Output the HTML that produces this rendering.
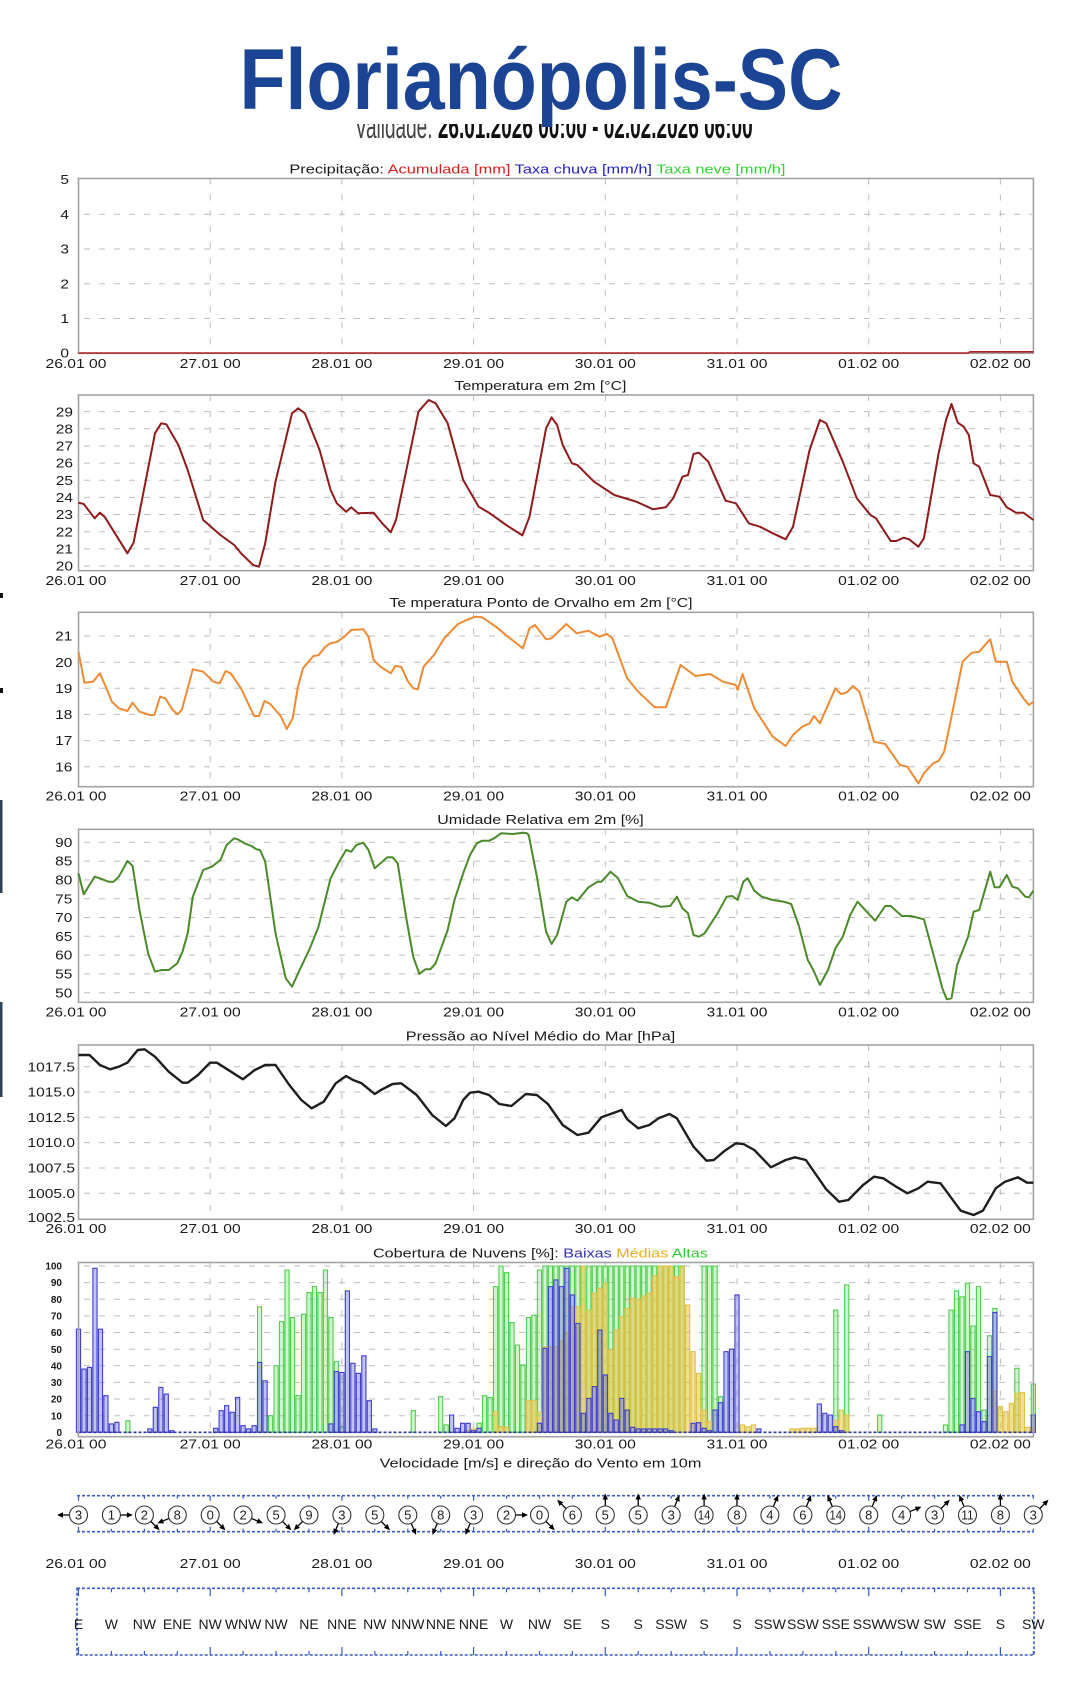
<!DOCTYPE html>
<html><head><meta charset="utf-8">
<style>
html,body{margin:0;padding:0;background:#fff;width:1078px;height:1708px;overflow:hidden}
svg{display:block}
.lb{font-size:12.5px;fill:#1a1a1a}
.gr{stroke:#bdbdbd;stroke-width:1;fill:none}
.bd{fill:none;stroke:#a3a3a3;stroke-width:1.6}
</style></head>
<body>
<svg width="1078" height="1708" viewBox="0 0 1078 1708" xmlns="http://www.w3.org/2000/svg" font-family="'Liberation Sans', Arial, sans-serif">
<defs>
<clipPath id="vc"><rect x="330" y="124" width="450" height="20"/></clipPath>
<g id="ar"><path d="M0,-9V-16.5" stroke="#000" stroke-width="1.3"/><path d="M0,-21.5L-2.7,-15.5L2.7,-15.5Z" fill="#000"/></g>
</defs>
<rect width="1078" height="1708" fill="#fff"/>

<!-- left edge artifacts -->
<rect x="0" y="593" width="3" height="5" fill="#111"/>
<rect x="0" y="688" width="3" height="5" fill="#111"/>
<rect x="0" y="800" width="2.5" height="93" fill="#2d4256"/>
<rect x="0" y="1002" width="2.5" height="95" fill="#2d4256"/>

<!-- header -->
<text clip-path="url(#vc)" x="553.7" y="137.8" font-size="34" text-anchor="middle" textLength="398" lengthAdjust="spacingAndGlyphs"><tspan fill="#444">Validade: </tspan><tspan font-weight="bold" fill="#111">26.01.2026 00:00 - 02.02.2026 06:00</tspan></text>
<text x="541" y="109" font-size="86" font-weight="bold" fill="#1b4594" text-anchor="middle" textLength="603" lengthAdjust="spacingAndGlyphs">Florianópolis-SC</text>

<!-- ============ PANEL 0: Precip ============ -->
<text class="lb" x="537.4" y="173.5" text-anchor="middle" textLength="496" lengthAdjust="spacingAndGlyphs"><tspan>Precipitação: </tspan><tspan fill="#d42020">Acumulada [mm] </tspan><tspan fill="#2323c0">Taxa chuva [mm/h] </tspan><tspan fill="#33d033">Taxa neve [mm/h]</tspan></text>
<path class="gr" stroke-dasharray="6 9" d="M84 214.3H1032M84 249H1032M84 283.8H1032M84 318.5H1032"/>
<path class="gr" stroke-dasharray="6 10" d="M210.2 178.5V353.3M341.9 178.5V353.3M473.6 178.5V353.3M605.3 178.5V353.3M737 178.5V353.3M868.7 178.5V353.3M1000.4 178.5V353.3"/>
<rect class="bd" x="78.5" y="178.5" width="954.9" height="174.8"/>
<path d="M78.5 353H968L970 351.8H1033.4" fill="none" stroke="#b02020" stroke-width="1.6"/>
<g class="lb" text-anchor="end">
<text x="69" y="184.1" textLength="8.6" lengthAdjust="spacingAndGlyphs">5</text>
<text x="69" y="218.9" textLength="8.6" lengthAdjust="spacingAndGlyphs">4</text>
<text x="69" y="253.6" textLength="8.6" lengthAdjust="spacingAndGlyphs">3</text>
<text x="69" y="288.4" textLength="8.6" lengthAdjust="spacingAndGlyphs">2</text>
<text x="69" y="323.1" textLength="8.6" lengthAdjust="spacingAndGlyphs">1</text>
<text x="69" y="357.5" textLength="8.6" lengthAdjust="spacingAndGlyphs">0</text>
</g>
<g class="lb" text-anchor="middle">
<text x="76" y="368" textLength="61" lengthAdjust="spacingAndGlyphs">26.01 00</text>
<text x="210.2" y="368" textLength="61" lengthAdjust="spacingAndGlyphs">27.01 00</text>
<text x="341.9" y="368" textLength="61" lengthAdjust="spacingAndGlyphs">28.01 00</text>
<text x="473.6" y="368" textLength="61" lengthAdjust="spacingAndGlyphs">29.01 00</text>
<text x="605.3" y="368" textLength="61" lengthAdjust="spacingAndGlyphs">30.01 00</text>
<text x="737" y="368" textLength="61" lengthAdjust="spacingAndGlyphs">31.01 00</text>
<text x="868.7" y="368" textLength="61" lengthAdjust="spacingAndGlyphs">01.02 00</text>
<text x="1000.4" y="368" textLength="61" lengthAdjust="spacingAndGlyphs">02.02 00</text>
</g>

<!-- ============ PANEL 1: Temperature ============ -->
<text class="lb" x="540.5" y="390" text-anchor="middle" textLength="171.7" lengthAdjust="spacingAndGlyphs">Temperatura em 2m [°C]</text>
<path class="gr" stroke-dasharray="6 9" d="M84 411.65H1032M84 428.8H1032M84 445.95H1032M84 463.1H1032M84 480.25H1032M84 497.4H1032M84 514.55H1032M84 531.7H1032M84 548.85H1032M84 566H1032"/>
<path class="gr" stroke-dasharray="6 10" d="M210.2 395V570.7M341.9 395V570.7M473.6 395V570.7M605.3 395V570.7M737 395V570.7M868.7 395V570.7M1000.4 395V570.7"/>
<rect class="bd" x="78.5" y="395" width="954.9" height="175.7"/>
<polyline fill="none" stroke="#8e1b1b" stroke-width="2" stroke-linejoin="round" points="78.5,502.7 83.7,504 94.7,518.3 99.9,512.7 105,517.3 127.4,553.3 133.6,542.7 155,433.3 161.2,423.3 166.3,424.3 178.4,445 187.7,470 203.2,520 220.4,535 234.2,545 241,553.3 253.1,565 259,566.7 265.2,543.3 275.5,481.7 292,413.3 298.2,408.3 304.8,413.3 319.6,450 330.6,490 336.8,503.3 346.1,511.7 351.2,507.3 358.1,513.3 373.6,512.7 382.2,523.3 390.8,532.3 396,520 402.9,486.7 418.4,411.7 428.7,400 435.6,403.3 447.7,423.3 463.2,480 478.7,506.7 489,512.7 506.2,525 522.4,535.4 529.5,516.7 546.1,428.3 551.6,417.3 557.1,425 562.7,445 571.9,463.3 577.4,465 594,481.7 614.3,495 636.4,501.7 653,509.3 665.9,507.3 673.2,498.3 682.5,476.7 688,475 693.5,454 699,452.7 708.3,461.7 725.6,500.7 735.9,503.3 748.8,523.3 759.9,526.7 772.8,533.3 785.7,539.3 793,526.7 809.6,450 819.9,420 826.2,423.3 842.8,461.7 856.8,498.3 870.4,515 876,518.3 890.7,541 896.2,541 903.6,537.7 909.1,539.3 918.4,546.7 923.9,538.3 938.6,453.3 946,420 951.5,404 957.8,422.7 963.7,426.7 968.8,435 973.6,463.3 979.2,466.7 990.2,495 999.4,496.7 1006.8,507.3 1016,512.7 1023.4,512.7 1033.4,520"/>
<g class="lb" text-anchor="end">
<text x="73" y="416.3" textLength="17.2" lengthAdjust="spacingAndGlyphs">29</text>
<text x="73" y="433.4" textLength="17.2" lengthAdjust="spacingAndGlyphs">28</text>
<text x="73" y="450.6" textLength="17.2" lengthAdjust="spacingAndGlyphs">27</text>
<text x="73" y="467.7" textLength="17.2" lengthAdjust="spacingAndGlyphs">26</text>
<text x="73" y="484.9" textLength="17.2" lengthAdjust="spacingAndGlyphs">25</text>
<text x="73" y="502" textLength="17.2" lengthAdjust="spacingAndGlyphs">24</text>
<text x="73" y="519.2" textLength="17.2" lengthAdjust="spacingAndGlyphs">23</text>
<text x="73" y="536.3" textLength="17.2" lengthAdjust="spacingAndGlyphs">22</text>
<text x="73" y="553.5" textLength="17.2" lengthAdjust="spacingAndGlyphs">21</text>
<text x="73" y="570.6" textLength="17.2" lengthAdjust="spacingAndGlyphs">20</text>
</g>
<g class="lb" text-anchor="middle">
<text x="76" y="584.8" textLength="61" lengthAdjust="spacingAndGlyphs">26.01 00</text>
<text x="210.2" y="584.8" textLength="61" lengthAdjust="spacingAndGlyphs">27.01 00</text>
<text x="341.9" y="584.8" textLength="61" lengthAdjust="spacingAndGlyphs">28.01 00</text>
<text x="473.6" y="584.8" textLength="61" lengthAdjust="spacingAndGlyphs">29.01 00</text>
<text x="605.3" y="584.8" textLength="61" lengthAdjust="spacingAndGlyphs">30.01 00</text>
<text x="737" y="584.8" textLength="61" lengthAdjust="spacingAndGlyphs">31.01 00</text>
<text x="868.7" y="584.8" textLength="61" lengthAdjust="spacingAndGlyphs">01.02 00</text>
<text x="1000.4" y="584.8" textLength="61" lengthAdjust="spacingAndGlyphs">02.02 00</text>
</g>

<!-- ============ PANEL 2: Dew point ============ -->
<text class="lb" x="541" y="607" text-anchor="middle" textLength="303" lengthAdjust="spacingAndGlyphs">Te mperatura Ponto de Orvalho em 2m [°C]</text>
<path class="gr" stroke-dasharray="6 9" d="M84 636.05H1032M84 662.2H1032M84 688.3H1032M84 714.4H1032M84 740.6H1032M84 766.7H1032"/>
<path class="gr" stroke-dasharray="6 10" d="M210.2 612.3V786.7M341.9 612.3V786.7M473.6 612.3V786.7M605.3 612.3V786.7M737 612.3V786.7M868.7 612.3V786.7M1000.4 612.3V786.7"/>
<rect class="bd" x="78.5" y="612.3" width="954.9" height="174.4"/>
<polyline fill="none" stroke="#ee8a34" stroke-width="2" stroke-linejoin="round" points="78.5,651.7 84.4,682.7 93,681.7 99.9,673.3 105,685 111.9,701.7 118.8,708.3 127.4,711 132.6,702.7 139.5,711.7 149.8,715 154.3,715 160.1,696.7 165.3,698.3 172.2,709.3 177.3,714.3 181.8,710 192.8,669.3 203.2,671.7 213.5,681.7 219.7,683.3 225.6,671 230.7,673.3 241,688.3 254.1,716 259,716 264.5,701 270.3,704 280.6,716 286.8,729 292.7,718.3 297.9,686.7 303,668.3 313.4,656 318.5,655.3 325.4,646.7 330.6,643.3 336.8,642 344.4,636.7 351.2,630 363.3,629.3 368.5,636.7 373.6,660 380.5,666.7 390.8,673.3 395.3,666 401.2,666.7 408.1,681.7 413.2,688.3 417.7,689.3 423.6,666.7 433.9,655 444.2,638.3 458,624 468.3,619.3 475.2,616.7 482.1,617.3 495.9,626.7 507.9,636.7 522.9,648.3 529.5,628.3 535,625 546.1,639.3 551.6,638.3 566.3,624 576.7,633.3 588.5,630.7 599.5,636.7 606.9,634 612.4,638.3 627.2,678.3 638.2,691.7 654.8,707.3 665.9,707.3 680.6,665 695.4,676 710.1,674 723,681.7 735.9,685 737.7,690 742.5,674 754.3,708.3 772.8,736.7 785.7,746 793,735 802.2,726.7 809.6,723.3 814,716 819.9,723.3 835.4,688.3 840.9,694 846.5,692.7 853.1,686 859.4,691.7 874.1,741.7 885.2,744 899.9,765 907.3,766.7 918.4,783.3 923.9,773.3 933.1,763.3 938.6,761 944.2,751.7 951.5,716.7 962.6,661.7 971.8,652.7 979.2,651.7 990.2,639.3 995.8,661.7 1006.8,661.7 1012.3,681.7 1023.4,698.3 1028.9,705 1033.4,701.7"/>
<g class="lb" text-anchor="end">
<text x="72.3" y="640.7" textLength="17.2" lengthAdjust="spacingAndGlyphs">21</text>
<text x="72.3" y="666.8" textLength="17.2" lengthAdjust="spacingAndGlyphs">20</text>
<text x="72.3" y="692.9" textLength="17.2" lengthAdjust="spacingAndGlyphs">19</text>
<text x="72.3" y="719" textLength="17.2" lengthAdjust="spacingAndGlyphs">18</text>
<text x="72.3" y="745.2" textLength="17.2" lengthAdjust="spacingAndGlyphs">17</text>
<text x="72.3" y="771.3" textLength="17.2" lengthAdjust="spacingAndGlyphs">16</text>
</g>
<g class="lb" text-anchor="middle">
<text x="76" y="800.5" textLength="61" lengthAdjust="spacingAndGlyphs">26.01 00</text>
<text x="210.2" y="800.5" textLength="61" lengthAdjust="spacingAndGlyphs">27.01 00</text>
<text x="341.9" y="800.5" textLength="61" lengthAdjust="spacingAndGlyphs">28.01 00</text>
<text x="473.6" y="800.5" textLength="61" lengthAdjust="spacingAndGlyphs">29.01 00</text>
<text x="605.3" y="800.5" textLength="61" lengthAdjust="spacingAndGlyphs">30.01 00</text>
<text x="737" y="800.5" textLength="61" lengthAdjust="spacingAndGlyphs">31.01 00</text>
<text x="868.7" y="800.5" textLength="61" lengthAdjust="spacingAndGlyphs">01.02 00</text>
<text x="1000.4" y="800.5" textLength="61" lengthAdjust="spacingAndGlyphs">02.02 00</text>
</g>

<!-- ============ PANEL 3: RH ============ -->
<text class="lb" x="540.5" y="823.8" text-anchor="middle" textLength="206.5" lengthAdjust="spacingAndGlyphs">Umidade Relativa em 2m [%]</text>
<path class="gr" stroke-dasharray="6 9" d="M84 842.3H1032M84 861.1H1032M84 879.9H1032M84 898.7H1032M84 917.5H1032M84 936.3H1032M84 955.1H1032M84 973.9H1032M84 992.7H1032"/>
<path class="gr" stroke-dasharray="6 10" d="M210.2 829.3V1002.3M341.9 829.3V1002.3M473.6 829.3V1002.3M605.3 829.3V1002.3M737 829.3V1002.3M868.7 829.3V1002.3M1000.4 829.3V1002.3"/>
<rect class="bd" x="78.5" y="829.3" width="954.9" height="173"/>
<polyline fill="none" stroke="#4a8a2a" stroke-width="2" stroke-linejoin="round" points="78.5,873.3 83.7,894.3 89.5,885 94.7,876.7 99.9,878.3 108.5,881.7 113.6,881.7 118.8,876.7 127.4,861 132.6,866 139.5,910 148.1,953.3 155,971.7 161.8,970 168.7,970 177.3,963.3 182.5,951.7 187.7,933.3 192.8,896.7 203.2,870 211.8,866.7 220.4,860 226.6,845 234.2,838.3 237.6,839.3 244.5,843.3 251.4,846 256.5,849.3 260,850 265.2,861.7 275.5,933.3 285.8,978.3 292,986.7 299.6,970 309.9,948.3 318.5,926.7 330.6,878.3 339.2,861.7 346.1,850 351.2,851.7 356.4,845 363.3,842.7 368.5,850 374.7,868.3 380.5,863.3 387.4,857.3 392.6,857.3 397.7,863.3 406.3,918.3 413.2,956.7 419.4,974 425.3,969.3 430.4,969.3 435.6,963.3 447.7,930 454.5,900 463.2,873.3 470,855 476.9,843.3 482.1,840.7 489,840.7 494.1,838.3 501,833.3 513.1,834 522.7,832.7 526.9,833.3 528.7,835 536.9,876.7 546.1,931.7 551.6,944 557.1,935 566.3,901.7 571.9,897.3 577.4,900.7 588.5,887.3 597.7,881.7 601.4,881.7 610.6,871.7 618,878.3 627.2,896 638.2,901.7 649.3,902.7 660.3,906.7 670.3,906 676.9,896.7 682.5,908.3 688,913.3 693.5,935 699,936.7 704.6,933.3 717.5,913.3 726.7,896.7 732.2,896 737.7,900 743.3,881.7 747.7,878.3 754.3,890.7 761.7,896.7 772.8,900 783.8,901.7 791.2,904 798.6,925 807.8,960 813.3,970 819.9,985 828,970 835.4,948.3 842.8,936.7 850.2,915 857.5,901.7 866.7,911.7 875.2,920.7 885.2,906 890.7,906 901.8,916 911,916 923.9,919.3 934.9,960 942.3,988.3 946.7,999.3 951.5,998.3 957.1,965 968.1,936.7 973.6,911.7 979.2,910 990.2,871.7 994.6,887.3 999.4,887.3 1006.8,875 1012.3,886.7 1017.9,888.3 1025.3,896.7 1028.9,897.3 1033.4,890.7"/>
<g class="lb" text-anchor="end">
<text x="72.3" y="846.9" textLength="17.2" lengthAdjust="spacingAndGlyphs">90</text>
<text x="72.3" y="865.7" textLength="17.2" lengthAdjust="spacingAndGlyphs">85</text>
<text x="72.3" y="884.5" textLength="17.2" lengthAdjust="spacingAndGlyphs">80</text>
<text x="72.3" y="903.3" textLength="17.2" lengthAdjust="spacingAndGlyphs">75</text>
<text x="72.3" y="922.1" textLength="17.2" lengthAdjust="spacingAndGlyphs">70</text>
<text x="72.3" y="940.9" textLength="17.2" lengthAdjust="spacingAndGlyphs">65</text>
<text x="72.3" y="959.7" textLength="17.2" lengthAdjust="spacingAndGlyphs">60</text>
<text x="72.3" y="978.5" textLength="17.2" lengthAdjust="spacingAndGlyphs">55</text>
<text x="72.3" y="997.3" textLength="17.2" lengthAdjust="spacingAndGlyphs">50</text>
</g>
<g class="lb" text-anchor="middle">
<text x="76" y="1016.5" textLength="61" lengthAdjust="spacingAndGlyphs">26.01 00</text>
<text x="210.2" y="1016.5" textLength="61" lengthAdjust="spacingAndGlyphs">27.01 00</text>
<text x="341.9" y="1016.5" textLength="61" lengthAdjust="spacingAndGlyphs">28.01 00</text>
<text x="473.6" y="1016.5" textLength="61" lengthAdjust="spacingAndGlyphs">29.01 00</text>
<text x="605.3" y="1016.5" textLength="61" lengthAdjust="spacingAndGlyphs">30.01 00</text>
<text x="737" y="1016.5" textLength="61" lengthAdjust="spacingAndGlyphs">31.01 00</text>
<text x="868.7" y="1016.5" textLength="61" lengthAdjust="spacingAndGlyphs">01.02 00</text>
<text x="1000.4" y="1016.5" textLength="61" lengthAdjust="spacingAndGlyphs">02.02 00</text>
</g>

<!-- ============ PANEL 4: Pressure ============ -->
<text class="lb" x="540.5" y="1040.3" text-anchor="middle" textLength="269.5" lengthAdjust="spacingAndGlyphs">Pressão ao Nível Médio do Mar [hPa]</text>
<path class="gr" stroke-dasharray="6 9" d="M84 1066.7H1032M84 1092H1032M84 1117.3H1032M84 1142.6H1032M84 1168H1032M84 1193.3H1032"/>
<path class="gr" stroke-dasharray="6 10" d="M210.2 1045V1219.3M341.9 1045V1219.3M473.6 1045V1219.3M605.3 1045V1219.3M737 1045V1219.3M868.7 1045V1219.3M1000.4 1045V1219.3"/>
<rect class="bd" x="78.5" y="1045" width="954.9" height="174.3"/>
<polyline fill="none" stroke="#1e1e1e" stroke-width="2.4" stroke-linejoin="round" points="78.5,1055 89.5,1055 99.9,1065 110.2,1069.3 118.8,1066.7 127.4,1062.7 137.7,1050 144.6,1049.3 155,1056.7 168.7,1071.7 182.5,1082.7 187.7,1082.7 198,1075 210,1062.7 216.9,1062.7 227.3,1069.3 242.8,1079.3 254.8,1070 265.2,1065 275.5,1065 289.3,1085 301.3,1100 311.6,1108.3 323.7,1101.7 335.7,1083.3 346.1,1076 353,1080 361.6,1083.3 374.7,1094 382.2,1089.3 392.6,1084 401.2,1083.3 416.7,1095 432.2,1115 445.9,1126 454.5,1118.3 463.2,1100 470,1092.7 478.7,1091.7 489,1095 499.3,1104 511.4,1106 525.8,1094 536.9,1095 547.9,1104 562.7,1125 577.4,1135 588.5,1132.7 601.4,1117.3 610.6,1114 621.6,1110 627.2,1119.3 638.2,1128.3 649.3,1125 658.5,1118.3 669.6,1114 676.9,1118.3 693.5,1146.7 706.4,1160.7 713.8,1160 724.8,1150.7 735.9,1143.3 743.3,1144 754.3,1150 770.9,1167.3 785.7,1160 794.9,1157.3 805.9,1160 826.2,1189.3 839.1,1201.7 848.3,1200 863.1,1185 874.1,1176.7 883.3,1178.3 896.2,1186.7 907.3,1193.3 918.4,1188.3 927.6,1181.7 940.5,1183.3 960.7,1210.7 973.6,1215 982.9,1210.7 995.8,1188.3 1005,1181.7 1017.9,1177.3 1027.1,1182.7 1033.4,1182.7"/>
<g class="lb" text-anchor="end">
<text x="75" y="1071.3" textLength="47.5" lengthAdjust="spacingAndGlyphs">1017.5</text>
<text x="75" y="1096.6" textLength="47.5" lengthAdjust="spacingAndGlyphs">1015.0</text>
<text x="75" y="1121.9" textLength="47.5" lengthAdjust="spacingAndGlyphs">1012.5</text>
<text x="75" y="1147.2" textLength="47.5" lengthAdjust="spacingAndGlyphs">1010.0</text>
<text x="75" y="1172.6" textLength="47.5" lengthAdjust="spacingAndGlyphs">1007.5</text>
<text x="75" y="1197.9" textLength="47.5" lengthAdjust="spacingAndGlyphs">1005.0</text>
<text x="75" y="1221.8" textLength="47.5" lengthAdjust="spacingAndGlyphs">1002.5</text>
</g>
<g class="lb" text-anchor="middle">
<text x="76" y="1233" textLength="61" lengthAdjust="spacingAndGlyphs">26.01 00</text>
<text x="210.2" y="1233" textLength="61" lengthAdjust="spacingAndGlyphs">27.01 00</text>
<text x="341.9" y="1233" textLength="61" lengthAdjust="spacingAndGlyphs">28.01 00</text>
<text x="473.6" y="1233" textLength="61" lengthAdjust="spacingAndGlyphs">29.01 00</text>
<text x="605.3" y="1233" textLength="61" lengthAdjust="spacingAndGlyphs">30.01 00</text>
<text x="737" y="1233" textLength="61" lengthAdjust="spacingAndGlyphs">31.01 00</text>
<text x="868.7" y="1233" textLength="61" lengthAdjust="spacingAndGlyphs">01.02 00</text>
<text x="1000.4" y="1233" textLength="61" lengthAdjust="spacingAndGlyphs">02.02 00</text>
</g>

<!-- ============ PANEL 5: Clouds ============ -->
<text class="lb" x="540.4" y="1257.5" text-anchor="middle" textLength="334.8" lengthAdjust="spacingAndGlyphs"><tspan>Cobertura de Nuvens [%]: </tspan><tspan fill="#3030b8">Baixas </tspan><tspan fill="#e8b020">Médias </tspan><tspan fill="#33cc33">Altas</tspan></text>
<path class="gr" stroke-dasharray="6 9" d="M84 1266H1032M84 1282.6H1032M84 1299.3H1032M84 1315.9H1032M84 1332.5H1032M84 1349.2H1032M84 1365.8H1032M84 1382.4H1032M84 1399H1032M84 1415.7H1032"/>
<path class="gr" stroke-dasharray="6 10" d="M210.2 1262.5V1436.7M341.9 1262.5V1436.7M473.6 1262.5V1436.7M605.3 1262.5V1436.7M737 1262.5V1436.7M868.7 1262.5V1436.7M1000.4 1262.5V1436.7"/>
<g transform="translate(78.5,1432.3) scale(5.4875,-1.663)">
<path vector-effect="non-scaling-stroke" fill="#7ddc7d" fill-opacity=".35" stroke="#4ccf4c" stroke-width="1.1" d="M8.62,0v7h.76V0zM32.62,0v75.5h.76V0zM34.62,0v10h.76V0zM35.62,0v40h.76V0zM36.62,0v66.5h.76V0zM37.62,0v97.6h.76V0zM38.62,0v69h.76V0zM39.62,0v22h.76V0zM40.62,0v71h.76V0zM41.62,0v84h.76V0zM42.62,0v87.6h.76V0zM43.62,0v84h.76V0zM44.62,0v97.6h.76V0zM45.62,0v69h.76V0zM46.62,0v42.5h.76V0zM47.62,0v3.4h.76V0zM60.62,0v13h.76V0zM65.62,0v21.5h.76V0zM66.62,0v4.4h.76V0zM72.62,0v5.4h.76V0zM73.62,0v22h.76V0zM74.62,0v21h.76V0zM75.62,0v87.6h.76V0zM76.62,0v100h.76V0zM77.62,0v96h.76V0zM78.62,0v66h.76V0zM79.62,0v52.5h.76V0zM80.62,0v40.5h.76V0zM81.62,0v69h.76V0zM82.62,0v70.5h.76V0zM83.62,0v97.6h.76V0zM84.62,0v100h.76V0zM85.62,0v100h.76V0zM86.62,0v100h.76V0zM87.62,0v100h.76V0zM88.62,0v100h.76V0zM89.62,0v100h.76V0zM90.62,0v100h.76V0zM91.62,0v100h.76V0zM92.62,0v100h.76V0zM93.62,0v100h.76V0zM94.62,0v100h.76V0zM95.62,0v100h.76V0zM96.62,0v100h.76V0zM97.62,0v100h.76V0zM98.62,0v100h.76V0zM99.62,0v100h.76V0zM100.62,0v100h.76V0zM101.62,0v100h.76V0zM102.62,0v100h.76V0zM103.62,0v100h.76V0zM104.62,0v100h.76V0zM105.62,0v100h.76V0zM106.62,0v100h.76V0zM107.62,0v100h.76V0zM108.62,0v100h.76V0zM109.62,0v100h.76V0zM113.62,0v100h.76V0zM114.62,0v100h.76V0zM115.62,0v100h.76V0zM116.62,0v21.4h.76V0zM137.62,0v73.5h.76V0zM139.62,0v88.6h.76V0zM145.62,0v10.4h.76V0zM157.62,0v4.4h.76V0zM158.62,0v73.5h.76V0zM159.62,0v85h.76V0zM160.62,0v81.5h.76V0zM161.62,0v89.6h.76V0zM162.62,0v64h.76V0zM163.62,0v87.6h.76V0zM164.62,0v13.4h.76V0zM165.62,0v58h.76V0zM166.62,0v74.5h.76V0zM170.62,0v38.5h.76V0zM173.62,0v29h.76V0z"/>
<path vector-effect="non-scaling-stroke" fill="#e0c43a" fill-opacity=".5" stroke="#e2c040" stroke-width="1.1" d="M70.62,0v1h.76V0zM71.62,0v2h.76V0zM75.62,0v12.4h.76V0zM76.62,0v3.4h.76V0zM77.62,0v3h.76V0zM81.62,0v19h.76V0zM82.62,0v19h.76V0zM83.62,0v12h.76V0zM84.62,0v51.5h.76V0zM85.62,0v51.5h.76V0zM86.62,0v51.5h.76V0zM87.62,0v55h.76V0zM88.62,0v60h.76V0zM89.62,0v75.5h.76V0zM90.62,0v75.5h.76V0zM91.62,0v100h.76V0zM92.62,0v73.5h.76V0zM93.62,0v83.6h.76V0zM94.62,0v86.6h.76V0zM95.62,0v89.6h.76V0zM96.62,0v49.5h.76V0zM97.62,0v61.5h.76V0zM98.62,0v69.5h.76V0zM99.62,0v74.5h.76V0zM100.62,0v80.6h.76V0zM101.62,0v80h.76V0zM102.62,0v82h.76V0zM103.62,0v83.6h.76V0zM104.62,0v94h.76V0zM105.62,0v100h.76V0zM106.62,0v100h.76V0zM107.62,0v100h.76V0zM108.62,0v93.6h.76V0zM109.62,0v99.6h.76V0zM110.62,0v76.5h.76V0zM111.62,0v48.5h.76V0zM112.62,0v35.5h.76V0zM113.62,0v13.4h.76V0zM114.62,0v6.4h.76V0zM120.62,0v4.4h.76V0zM121.62,0v3.4h.76V0zM122.62,0v4.4h.76V0zM129.62,0v2h.76V0zM130.62,0v2h.76V0zM131.62,0v2.4h.76V0zM132.62,0v2.4h.76V0zM133.62,0v2.4h.76V0zM137.62,0v7.4h.76V0zM138.62,0v13.4h.76V0zM139.62,0v10.4h.76V0zM166.62,0v24.5h.76V0zM167.62,0v15.4h.76V0zM168.62,0v12.4h.76V0zM169.62,0v17.4h.76V0zM170.62,0v23.4h.76V0zM171.62,0v23.8h.76V0zM172.62,0v3h.76V0zM173.62,0v2h.76V0z"/>
<path vector-effect="non-scaling-stroke" fill="#6a6ae0" fill-opacity=".4" stroke="#3f3fd0" stroke-width="1.1" d="M-.38,0v62h.76V0zM.62,0v38h.76V0zM1.62,0v39h.76V0zM2.62,0v98.6h.76V0zM3.62,0v62h.76V0zM4.62,0v22h.76V0zM5.62,0v5h.76V0zM6.62,0v6h.76V0zM12.62,0v2h.76V0zM13.62,0v15h.76V0zM14.62,0v27h.76V0zM15.62,0v23h.76V0zM16.62,0v1h.76V0zM24.62,0v2.4h.76V0zM25.62,0v13h.76V0zM26.62,0v16h.76V0zM27.62,0v12h.76V0zM28.62,0v21h.76V0zM29.62,0v4h.76V0zM30.62,0v2h.76V0zM31.62,0v4h.76V0zM32.62,0v42h.76V0zM33.62,0v31h.76V0zM45.62,0v5h.76V0zM46.62,0v36.5h.76V0zM47.62,0v36h.76V0zM48.62,0v85h.76V0zM49.62,0v41.5h.76V0zM50.62,0v35.5h.76V0zM51.62,0v46h.76V0zM52.62,0v19h.76V0zM53.62,0v2h.76V0zM67.62,0v10.4h.76V0zM68.62,0v2.4h.76V0zM69.62,0v5.4h.76V0zM70.62,0v5.4h.76V0zM71.62,0v1h.76V0zM72.62,0v2.4h.76V0zM83.62,0v5.4h.76V0zM84.62,0v50.5h.76V0zM85.62,0v87.6h.76V0zM86.62,0v91.6h.76V0zM87.62,0v87.6h.76V0zM88.62,0v98.6h.76V0zM89.62,0v82.6h.76V0zM90.62,0v65.5h.76V0zM91.62,0v11.4h.76V0zM92.62,0v20.4h.76V0zM93.62,0v27.5h.76V0zM94.62,0v61.5h.76V0zM95.62,0v34.5h.76V0zM96.62,0v11.4h.76V0zM97.62,0v7.4h.76V0zM98.62,0v20.4h.76V0zM99.62,0v13.4h.76V0zM100.62,0v3h.76V0zM101.62,0v2h.76V0zM102.62,0v2h.76V0zM103.62,0v2h.76V0zM104.62,0v2h.76V0zM105.62,0v2h.76V0zM106.62,0v2h.76V0zM107.62,0v1h.76V0zM111.62,0v5.4h.76V0zM112.62,0v5.8h.76V0zM113.62,0v2.4h.76V0zM114.62,0v1h.76V0zM115.62,0v13.4h.76V0zM116.62,0v17.8h.76V0zM117.62,0v48.5h.76V0zM118.62,0v50h.76V0zM119.62,0v82.6h.76V0zM123.62,0v2h.76V0zM134.62,0v17h.76V0zM135.62,0v11.4h.76V0zM136.62,0v10.4h.76V0zM137.62,0v3.4h.76V0zM138.62,0v1h.76V0zM160.62,0v4.4h.76V0zM161.62,0v48.5h.76V0zM162.62,0v20.4h.76V0zM163.62,0v12.4h.76V0zM164.62,0v6.4h.76V0zM165.62,0v45.5h.76V0zM166.62,0v72h.76V0zM173.62,0v10.4h.76V0z"/>
</g>
<path d="M78.5 1432.3H1033.4" stroke="#2b3aa0" stroke-width="1.6" stroke-dasharray="3 2" fill="none"/>
<rect class="bd" x="78.5" y="1262.5" width="954.9" height="174.2"/>
<g font-size="10" font-weight="bold" fill="#1a1a1a" text-anchor="end">
<text x="62" y="1269.6">100</text>
<text x="62" y="1286.2">90</text>
<text x="62" y="1302.9">80</text>
<text x="62" y="1319.5">70</text>
<text x="62" y="1336.1">60</text>
<text x="62" y="1352.8">50</text>
<text x="62" y="1369.4">40</text>
<text x="62" y="1386">30</text>
<text x="62" y="1402.6">20</text>
<text x="62" y="1419.3">10</text>
<text x="62" y="1435.9">0</text>
</g>
<g class="lb" text-anchor="middle">
<text x="76" y="1448.6" textLength="61" lengthAdjust="spacingAndGlyphs">26.01 00</text>
<text x="210.2" y="1448.6" textLength="61" lengthAdjust="spacingAndGlyphs">27.01 00</text>
<text x="341.9" y="1448.6" textLength="61" lengthAdjust="spacingAndGlyphs">28.01 00</text>
<text x="473.6" y="1448.6" textLength="61" lengthAdjust="spacingAndGlyphs">29.01 00</text>
<text x="605.3" y="1448.6" textLength="61" lengthAdjust="spacingAndGlyphs">30.01 00</text>
<text x="737" y="1448.6" textLength="61" lengthAdjust="spacingAndGlyphs">31.01 00</text>
<text x="868.7" y="1448.6" textLength="61" lengthAdjust="spacingAndGlyphs">01.02 00</text>
<text x="1000.4" y="1448.6" textLength="61" lengthAdjust="spacingAndGlyphs">02.02 00</text>
</g>

<!-- ============ WIND ============ -->
<text class="lb" x="540.5" y="1467.5" text-anchor="middle" textLength="321.7" lengthAdjust="spacingAndGlyphs">Velocidade [m/s] e direção do Vento em 10m</text>
<g stroke="#3a5cc4" fill="none">
<path stroke-width="1.6" stroke-dasharray="3 2" d="M77 1495.7H1034M77 1531.7H1034"/>
<path stroke-width="1.2" d="M78.5 1495.7v5M111.4 1495.7v3M144.4 1495.7v3M177.3 1495.7v3M210.2 1495.7v5M243.1 1495.7v3M276.1 1495.7v3M309 1495.7v3M341.9 1495.7v5M374.8 1495.7v3M407.8 1495.7v3M440.7 1495.7v3M473.6 1495.7v5M506.5 1495.7v3M539.5 1495.7v3M572.4 1495.7v3M605.3 1495.7v5M638.2 1495.7v3M671.2 1495.7v3M704.1 1495.7v3M737 1495.7v5M769.9 1495.7v3M802.9 1495.7v3M835.8 1495.7v3M868.7 1495.7v5M901.6 1495.7v3M934.6 1495.7v3M967.5 1495.7v3M1000.4 1495.7v5M1033.3 1495.7v3
M78.5 1531.7v-5M111.4 1531.7v-3M144.4 1531.7v-3M177.3 1531.7v-3M210.2 1531.7v-5M243.1 1531.7v-3M276.1 1531.7v-3M309 1531.7v-3M341.9 1531.7v-5M374.8 1531.7v-3M407.8 1531.7v-3M440.7 1531.7v-3M473.6 1531.7v-5M506.5 1531.7v-3M539.5 1531.7v-3M572.4 1531.7v-3M605.3 1531.7v-5M638.2 1531.7v-3M671.2 1531.7v-3M704.1 1531.7v-3M737 1531.7v-5M769.9 1531.7v-3M802.9 1531.7v-3M835.8 1531.7v-3M868.7 1531.7v-5M901.6 1531.7v-3M934.6 1531.7v-3M967.5 1531.7v-3M1000.4 1531.7v-5M1033.3 1531.7v-3"/>
<rect x="77" y="1588.3" width="957" height="66.7" stroke-width="1.6" stroke-dasharray="3 2"/>
<path stroke-width="1.2" d="M78.5 1588.3v8M111.4 1588.3v4M144.4 1588.3v4M177.3 1588.3v4M210.2 1588.3v8M243.1 1588.3v4M276.1 1588.3v4M309 1588.3v4M341.9 1588.3v8M374.8 1588.3v4M407.8 1588.3v4M440.7 1588.3v4M473.6 1588.3v8M506.5 1588.3v4M539.5 1588.3v4M572.4 1588.3v4M605.3 1588.3v8M638.2 1588.3v4M671.2 1588.3v4M704.1 1588.3v4M737 1588.3v8M769.9 1588.3v4M802.9 1588.3v4M835.8 1588.3v4M868.7 1588.3v8M901.6 1588.3v4M934.6 1588.3v4M967.5 1588.3v4M1000.4 1588.3v8M1033.3 1588.3v4
M78.5 1655v-8M111.4 1655v-4M144.4 1655v-4M177.3 1655v-4M210.2 1655v-8M243.1 1655v-4M276.1 1655v-4M309 1655v-4M341.9 1655v-8M374.8 1655v-4M407.8 1655v-4M440.7 1655v-4M473.6 1655v-8M506.5 1655v-4M539.5 1655v-4M572.4 1655v-4M605.3 1655v-8M638.2 1655v-4M671.2 1655v-4M704.1 1655v-4M737 1655v-8M769.9 1655v-4M802.9 1655v-4M835.8 1655v-4M868.7 1655v-8M901.6 1655v-4M934.6 1655v-4M967.5 1655v-4M1000.4 1655v-8M1033.3 1655v-4"/>
</g>

<!-- arrows -->
<use href="#ar" transform="translate(78.5,1515) rotate(270)"/>
<use href="#ar" transform="translate(111.4,1515) rotate(90)"/>
<use href="#ar" transform="translate(144.4,1515) rotate(135)"/>
<use href="#ar" transform="translate(177.3,1515) rotate(247.5)"/>
<use href="#ar" transform="translate(210.2,1515) rotate(135)"/>
<use href="#ar" transform="translate(243.1,1515) rotate(112.5)"/>
<use href="#ar" transform="translate(276.1,1515) rotate(135)"/>
<use href="#ar" transform="translate(309,1515) rotate(225)"/>
<use href="#ar" transform="translate(341.9,1515) rotate(202.5)"/>
<use href="#ar" transform="translate(374.8,1515) rotate(135)"/>
<use href="#ar" transform="translate(407.8,1515) rotate(157.5)"/>
<use href="#ar" transform="translate(440.7,1515) rotate(202.5)"/>
<use href="#ar" transform="translate(473.6,1515) rotate(202.5)"/>
<use href="#ar" transform="translate(506.5,1515) rotate(90)"/>
<use href="#ar" transform="translate(539.5,1515) rotate(135)"/>
<use href="#ar" transform="translate(572.4,1515) rotate(315)"/>
<use href="#ar" transform="translate(605.3,1515) rotate(0)"/>
<use href="#ar" transform="translate(638.2,1515) rotate(0)"/>
<use href="#ar" transform="translate(671.2,1515) rotate(22.5)"/>
<use href="#ar" transform="translate(704.1,1515) rotate(0)"/>
<use href="#ar" transform="translate(737,1515) rotate(0)"/>
<use href="#ar" transform="translate(769.9,1515) rotate(22.5)"/>
<use href="#ar" transform="translate(802.9,1515) rotate(22.5)"/>
<use href="#ar" transform="translate(835.8,1515) rotate(337.5)"/>
<use href="#ar" transform="translate(868.7,1515) rotate(22.5)"/>
<use href="#ar" transform="translate(901.6,1515) rotate(67.5)"/>
<use href="#ar" transform="translate(934.6,1515) rotate(45)"/>
<use href="#ar" transform="translate(967.5,1515) rotate(337.5)"/>
<use href="#ar" transform="translate(1000.4,1515) rotate(0)"/>
<use href="#ar" transform="translate(1033.3,1515) rotate(45)"/>

<!-- circles -->
<g fill="#fff" stroke="#333" stroke-width="1.1">
<circle cx="78.5" cy="1515" r="9"/><circle cx="111.4" cy="1515" r="9"/><circle cx="144.4" cy="1515" r="9"/><circle cx="177.3" cy="1515" r="9"/><circle cx="210.2" cy="1515" r="9"/><circle cx="243.1" cy="1515" r="9"/><circle cx="276.1" cy="1515" r="9"/><circle cx="309" cy="1515" r="9"/><circle cx="341.9" cy="1515" r="9"/><circle cx="374.8" cy="1515" r="9"/><circle cx="407.8" cy="1515" r="9"/><circle cx="440.7" cy="1515" r="9"/><circle cx="473.6" cy="1515" r="9"/><circle cx="506.5" cy="1515" r="9"/><circle cx="539.5" cy="1515" r="9"/><circle cx="572.4" cy="1515" r="9"/><circle cx="605.3" cy="1515" r="9"/><circle cx="638.2" cy="1515" r="9"/><circle cx="671.2" cy="1515" r="9"/><circle cx="704.1" cy="1515" r="9"/><circle cx="737" cy="1515" r="9"/><circle cx="769.9" cy="1515" r="9"/><circle cx="802.9" cy="1515" r="9"/><circle cx="835.8" cy="1515" r="9"/><circle cx="868.7" cy="1515" r="9"/><circle cx="901.6" cy="1515" r="9"/><circle cx="934.6" cy="1515" r="9"/><circle cx="967.5" cy="1515" r="9"/><circle cx="1000.4" cy="1515" r="9"/><circle cx="1033.3" cy="1515" r="9"/>
</g>
<g font-size="13" fill="#222" text-anchor="middle">
<text x="78.5" y="1519.7">3</text><text x="111.4" y="1519.7">1</text><text x="144.4" y="1519.7">2</text><text x="177.3" y="1519.7">8</text><text x="210.2" y="1519.7">0</text><text x="243.1" y="1519.7">2</text><text x="276.1" y="1519.7">5</text><text x="309" y="1519.7">9</text><text x="341.9" y="1519.7">3</text><text x="374.8" y="1519.7">5</text><text x="407.8" y="1519.7">5</text><text x="440.7" y="1519.7">8</text><text x="473.6" y="1519.7">3</text><text x="506.5" y="1519.7">2</text><text x="539.5" y="1519.7">0</text><text x="572.4" y="1519.7">6</text><text x="605.3" y="1519.7">5</text><text x="638.2" y="1519.7">5</text><text x="671.2" y="1519.7">3</text><text x="704.1" y="1519.7" textLength="12.5" lengthAdjust="spacingAndGlyphs">14</text><text x="737" y="1519.7">8</text><text x="769.9" y="1519.7">4</text><text x="802.9" y="1519.7">6</text><text x="835.8" y="1519.7" textLength="12.5" lengthAdjust="spacingAndGlyphs">14</text><text x="868.7" y="1519.7">8</text><text x="901.6" y="1519.7">4</text><text x="934.6" y="1519.7">3</text><text x="967.5" y="1519.7" textLength="12.5" lengthAdjust="spacingAndGlyphs">11</text><text x="1000.4" y="1519.7">8</text><text x="1033.3" y="1519.7">3</text>
</g>

<!-- wind date labels -->
<g class="lb" text-anchor="middle">
<text x="76" y="1568" textLength="61" lengthAdjust="spacingAndGlyphs">26.01 00</text>
<text x="210.2" y="1568" textLength="61" lengthAdjust="spacingAndGlyphs">27.01 00</text>
<text x="341.9" y="1568" textLength="61" lengthAdjust="spacingAndGlyphs">28.01 00</text>
<text x="473.6" y="1568" textLength="61" lengthAdjust="spacingAndGlyphs">29.01 00</text>
<text x="605.3" y="1568" textLength="61" lengthAdjust="spacingAndGlyphs">30.01 00</text>
<text x="737" y="1568" textLength="61" lengthAdjust="spacingAndGlyphs">31.01 00</text>
<text x="868.7" y="1568" textLength="61" lengthAdjust="spacingAndGlyphs">01.02 00</text>
<text x="1000.4" y="1568" textLength="61" lengthAdjust="spacingAndGlyphs">02.02 00</text>
</g>

<!-- direction labels -->
<g font-size="14" fill="#1a1a1a" text-anchor="middle">
<text x="78.5" y="1629">E</text><text x="111.4" y="1629">W</text><text x="144.4" y="1629">NW</text><text x="177.3" y="1629">ENE</text><text x="210.2" y="1629">NW</text><text x="243.1" y="1629">WNW</text><text x="276.1" y="1629">NW</text><text x="309" y="1629">NE</text><text x="341.9" y="1629">NNE</text><text x="374.8" y="1629">NW</text><text x="407.8" y="1629">NNW</text><text x="440.7" y="1629">NNE</text><text x="473.6" y="1629">NNE</text><text x="506.5" y="1629">W</text><text x="539.5" y="1629">NW</text><text x="572.4" y="1629">SE</text><text x="605.3" y="1629">S</text><text x="638.2" y="1629">S</text><text x="671.2" y="1629">SSW</text><text x="704.1" y="1629">S</text><text x="737" y="1629">S</text><text x="769.9" y="1629">SSW</text><text x="802.9" y="1629">SSW</text><text x="835.8" y="1629">SSE</text><text x="868.7" y="1629">SSW</text><text x="901.6" y="1629">WSW</text><text x="934.6" y="1629">SW</text><text x="967.5" y="1629">SSE</text><text x="1000.4" y="1629">S</text><text x="1033.3" y="1629">SW</text>
</g>
</svg>
</body></html>
